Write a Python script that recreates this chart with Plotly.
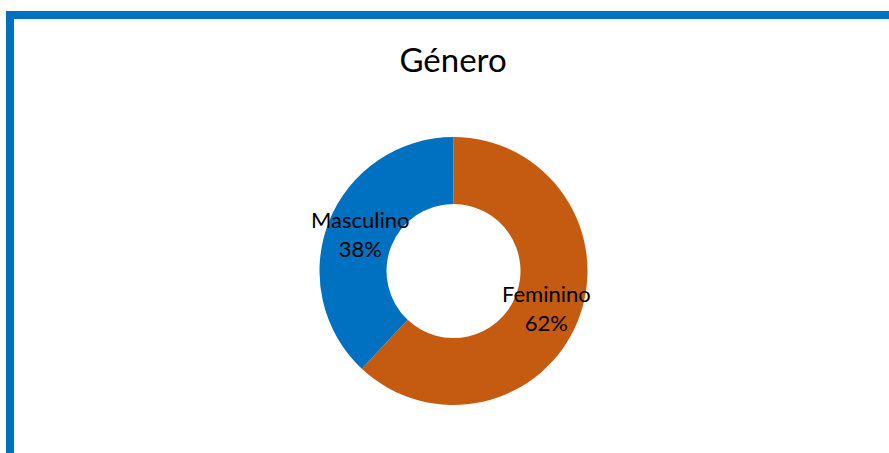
import math
import plotly.graph_objects as go

labels = ["Feminino", "Masculino"]
values = [62, 38]
colors = ["#C55A11", "#0070C0"]
title_text = "Género"

W, H = 889, 453
cx, cy, R, hole = 453.5, 271, 134, 0.5

fig = go.Figure(go.Pie(
    labels=labels, values=values, hole=hole, sort=False, direction="clockwise",
    rotation=0, marker=dict(colors=colors, line=dict(color="white", width=0)),
    textinfo="none", hoverinfo="label+percent", showlegend=False,
    domain=dict(x=[(cx - R) / W, (cx + R) / W], y=[1 - (cy + R) / H, 1 - (cy - R) / H]),
))

# labels at slice midpoints, mid-ring radius
total = sum(values)
cum = 0
rm = R * (1 + hole) / 2
for lab, v in zip(labels, values):
    mid = (cum + v / 2) / total
    ang = math.radians(90 - 360 * mid)
    x = cx + rm * math.cos(ang)
    y = cy - rm * math.sin(ang)
    pct = round(100 * v / total)
    fig.add_annotation(x=x / W, y=1 - y / H, xref="paper", yref="paper",
                       text=f"{lab}<br>{pct}%", showarrow=False,
                       font=dict(family="Lato", size=22, color="#000000"),
                       xanchor="center", yanchor="middle")
    cum += v

# border (top and left)
fig.add_shape(type="rect", xref="paper", yref="paper", x0=6 / W, x1=1.01,
              y0=1 - 19 / H, y1=1 - 11 / H, fillcolor="#0070C0", line_width=0)
fig.add_shape(type="rect", xref="paper", yref="paper", x0=6 / W, x1=14 / W,
              y0=-0.01, y1=1 - 11 / H, fillcolor="#0070C0", line_width=0)

fig.update_layout(
    width=W, height=H, margin=dict(l=0, r=0, t=0, b=0),
    paper_bgcolor="white", plot_bgcolor="white",
    title=dict(text=title_text, x=453 / W, xanchor="center", y=1 - 60 / H,
               yanchor="middle", yref="container",
               font=dict(family="Lato", size=33, color="#000000")),
)

fig.write_html("out.html", config={"displayModeBar": False},
               post_script="document.body.style.margin='0';document.body.style.overflow='hidden';")
